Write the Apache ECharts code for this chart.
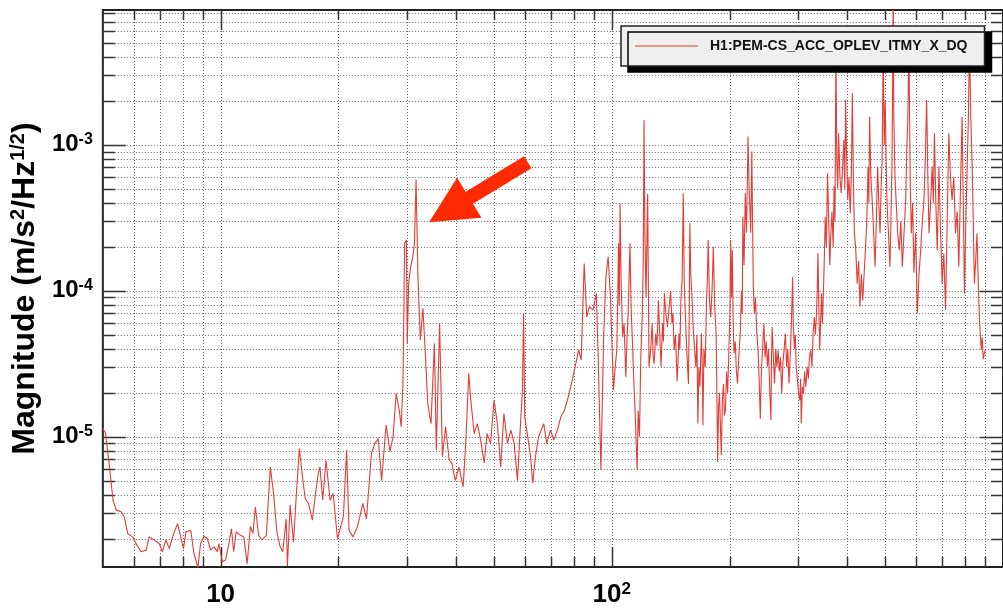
<!DOCTYPE html>
<html><head><meta charset="utf-8">
<script src="https://cdn.jsdelivr.net/npm/echarts@6/dist/echarts.min.js"></script>
<style>html,body{margin:0;padding:0;background:#fff}#c{width:1003px;height:616px}</style>
</head><body><div id="c"></div>
<script>
// ---- data: [frequency Hz, magnitude] ----
const bandLow = [[5.0,1.14e-5],[5.08,1.06e-5],[5.2,6.2e-6],[5.31,3.67e-6],[5.41,3.14e-6],[5.57,3.06e-6],[5.67,2.83e-6],[5.79,2.17e-6],[5.96,2.06e-6],[6.08,1.85e-6],[6.26,1.63e-6],[6.45,1.67e-6],[6.57,2.06e-6],[6.77,1.96e-6],[6.97,1.85e-6],[7.1,1.63e-6],[7.25,1.96e-6],[7.39,1.71e-6],[7.54,2.06e-6],[7.76,2.54e-6],[7.91,2.06e-6],[8.04,1.71e-6],[8.15,2.23e-6],[8.39,2.28e-6],[8.55,1.59e-6],[8.75,1.27e-6],[8.89,1.85e-6],[9.07,2.08e-6],[9.25,2.0e-6],[9.43,1.67e-6],[9.62,1.76e-6],[9.81,1.63e-6],[9.9,1.85e-6],[10.1,1.39e-6],[10.3,1.43e-6],[10.5,1.85e-6],[10.66,2.34e-6],[10.8,1.63e-6],[10.96,2.23e-6],[11.24,2.11e-6],[11.46,2.06e-6],[11.69,1.35e-6],[11.92,2.43e-6],[12.1,2.17e-6],[12.27,3.3e-6],[12.51,2.11e-6],[12.76,1.96e-6],[13.09,2.11e-6],[13.4,6.2e-6],[13.66,4.08e-6],[13.93,2.23e-6],[14.2,1.76e-6],[14.42,1.63e-6],[14.71,2.74e-6],[14.82,1.3e-6],[15.06,3.41e-6],[15.36,1.89e-6],[15.66,4.54e-6],[15.9,8.3e-6],[16.2,5.3e-6],[16.45,3.77e-6],[16.77,3.49e-6],[17.16,2.68e-6],[17.44,3.87e-6],[17.77,5.6e-6],[17.95,6.2e-6],[18.24,3.67e-6],[18.6,6.9e-6],[19.05,3.67e-6],[19.4,4.08e-6],[19.9,2.0e-6]];
const bandMid = [[20.6,2.83e-6],[21.0,8.1e-6],[21.3,2.28e-6],[21.8,2.06e-6],[22.4,2.43e-6],[23.1,3.49e-6],[23.6,2.74e-6],[24.3,7.7e-6],[24.8,9.0e-6],[25.3,9.7e-6],[25.8,5.0e-6],[26.3,9.5e-6],[26.5,1.2e-5],[27.1,7.9e-6],[27.6,1.0e-5],[28.1,1.98e-5],[28.65,1.5e-5],[28.95,1.17e-5],[29.25,2.3e-5],[29.55,2.12e-4],[29.85,2.23e-4],[30.0,4.36e-5],[30.25,1.12e-4],[30.6,1.46e-4],[31.0,1.71e-4],[31.3,2.12e-4],[31.6,5.76e-4],[31.95,1.25e-4],[32.4,4.6e-5],[32.9,7.6e-5],[33.4,3.52e-5],[33.85,1.69e-5],[34.5,1.23e-5],[35.2,4.36e-5],[35.6,8.1e-6],[36.3,5.97e-5],[36.9,7.3e-6],[37.6,1.17e-5],[38.4,6.9e-6],[39.0,6.6e-6],[39.8,5.0e-6],[40.7,6.2e-6],[41.7,4.54e-6],[42.4,1.0e-5],[43.1,2.72e-5],[43.6,1.78e-5],[44.5,1.05e-5],[45.3,1.23e-5],[46.2,9.5e-6],[47.2,6.6e-6],[48.0,1.05e-5],[49.0,9.0e-6],[50,1.78e-5],[51,1.23e-5],[52,6.2e-6],[53,1.44e-5],[54.1,9.0e-6],[55.2,1.11e-5],[56.3,9.0e-6],[57.4,5.0e-6],[58.5,1.3e-5],[59.1,2.09e-5],[59.5,7.0e-5],[59.9,1.37e-5],[60.8,1.05e-5],[62,7.3e-6],[62.8,4.8e-6],[63.8,7.3e-6],[65,1.0e-5],[67,1.23e-5],[68.2,9.0e-6],[69.7,1.11e-5],[71.1,9.5e-6],[72.6,1.11e-5],[74.1,1.37e-5],[75.7,1.52e-5],[77.3,1.85e-5],[78.9,2.32e-5],[80.6,3.02e-5],[82.3,3.93e-5],[83.5,3.36e-5],[85,1.54e-4],[86.3,6.6e-5],[87.6,7.8e-5],[89.5,7.4e-5],[91.3,9.6e-5],[92.3,3.52e-5],[93.8,5.9e-6],[95.3,4.8e-5],[96.6,1.25e-4],[97.9,1.71e-4],[99.2,9.1e-5]];
const bandHigh = [[101,2.09e-5],[102,3.0e-5],[103,3.93e-5],[103.6,9e-5],[104,2.12e-4],[104.5,8e-5],[105,3.96e-4],[105.6,1.2e-4],[106.6,4.8e-5],[107.5,6e-5],[108.6,2.58e-5],[109.3,4.5e-5],[110,6.6e-5],[110.6,1.1e-4],[111.3,2.12e-4],[112,8e-5],[112.8,4.8e-5],[113.8,2.5e-5],[115,1.23e-5],[116.1,5.9e-6],[116.8,1.5e-5],[117.7,1.0e-5],[118.6,3.5e-5],[119.6,6.6e-5],[120.3,1.5e-4],[120.9,1.48e-3],[121.5,2.5e-4],[122.3,9e-5],[123.5,4.6e-4],[124.5,3.0e-5],[125.7,3.93e-5],[126.8,6e-5],[127.6,3.5e-5],[128.3,3.17e-5],[129.5,5.1e-5],[130.5,4.2e-5],[131.6,8.6e-5],[132.6,5e-5],[133.6,3.02e-5],[134.8,6e-5],[135.5,4.5e-5],[136.3,9.6e-5],[137.5,7e-5],[138.8,5.65e-5],[140,7.5e-5],[141.4,1.0e-4],[142.5,6e-5],[143.4,7e-5],[144.3,3.93e-5],[145.5,5e-5],[146.9,2.4e-5],[147.8,3.5e-5],[148.5,5.1e-5],[149.3,4e-5],[150.2,8.6e-5],[151.3,1.2e-4],[152.3,4.66e-4],[153.2,1.1e-4],[154.8,5.1e-5],[155.8,3.5e-5],[157,2.3e-5],[157.7,6e-5],[158.3,2.9e-4],[159.2,1.3e-4],[160.5,8.6e-5],[161.5,5.5e-5],[162.8,3.93e-5],[164,3e-5],[165,5e-5],[166,1.23e-5],[167,3e-5],[168,2.2e-5],[169.5,5.1e-5],[170.3,3e-5],[171,1.2e-5],[172,4e-5],[173.3,3e-5],[174.6,8.6e-5],[175.5,1.2e-4],[176.4,2.23e-4],[177.6,9e-5],[179,6.6e-5],[180.4,1e-4],[181.8,2.0e-4],[183.2,8e-5],[184.8,5.1e-5],[185.6,2e-5],[186.5,6.7e-6],[187.5,1.6e-5],[188.5,2.0e-5],[189.5,1.2e-5],[190.5,7.5e-6],[191.8,1.8e-5],[193,2.3e-5],[194,1.4e-5],[195.2,1.52e-5],[196.5,2.8e-5],[197.8,2e-5],[199.2,3.93e-5],[200.4,7e-5],[201.3,2.23e-4],[202.3,9e-5],[203.3,1.9e-4],[204.3,6e-5],[205.4,3.75e-5],[206.8,4.5e-5],[208.2,2.8e-5],[209.6,2.32e-5],[211.3,3.6e-5],[213,5.1e-5],[214.6,1e-4],[215.5,7e-5],[216.3,3.22e-4],[217.8,1.5e-4],[219.4,4.66e-4],[221,2.5e-4],[223,1.14e-3],[224,6e-4],[225,4.2e-4],[226.5,2.5e-4],[228,9.0e-4],[229,3e-4],[230,1.07e-4],[231.5,7e-5],[233,9e-5],[234.8,5.1e-5],[236.5,4e-5],[238,2.5e-5],[239.7,1.33e-5],[241,2.5e-5],[242,3.36e-5],[243.4,4.5e-5],[244.8,5.96e-5],[246.5,3.5e-5],[248.2,4.5e-5],[249.9,3.02e-5],[251.5,4e-5],[253.5,2e-5],[255.2,1.3e-5],[256,3.5e-5],[257,5.65e-5],[258.8,3.5e-5],[260.6,2.32e-5],[262.5,4e-5],[264.3,3e-5],[266.2,3.93e-5],[268,2.8e-5],[270,3.5e-5],[271.9,1.98e-5],[273.8,3.2e-5],[275.8,4e-5],[277.8,5.1e-5],[279.8,3e-5],[281.8,4e-5],[283.8,2.32e-5],[285.8,3.5e-5],[287.8,6e-5],[289.9,1.25e-4],[291,6e-5],[293,4e-5],[294.5,5e-5],[296.1,3.02e-5],[298,2.5e-5],[300.2,2e-5],[302.5,1.78e-5],[303.8,2.5e-5],[305,1.23e-5],[307,2.2e-5],[309,1.98e-5],[311,2.8e-5],[313.3,2.2e-5],[315.7,3.02e-5],[318,2.5e-5],[320,3.5e-5],[322.5,3.93e-5],[324.8,3e-5],[327,5e-5],[329.4,6.6e-5],[331.5,5e-5],[333.6,7e-5],[335,1e-4],[336.5,1.81e-4],[338.2,8e-5],[340,3.93e-5],[341.8,6e-5],[343.8,9.6e-5],[345.4,6e-5],[347,8.6e-5],[349,1.5e-4],[351.2,3.22e-4],[353.5,2e-4],[356,6.4e-4],[358.5,3e-4],[360.8,1.5e-4],[363,2.48e-4],[365.5,3.5e-4],[368,2e-4],[370,5.2e-4],[372,3e-4],[374,4.5e-3],[376,8e-4],[378,5e-4],[380,1.2e-3],[383,6e-4],[386,4.66e-4],[389,7e-4],[392,1.08e-3],[394,5e-4],[396,2.03e-3],[398.5,8e-4],[401,4.2e-4],[404,6e-4],[407,3.4e-4],[409.5,6e-4],[412,2.26e-3],[414.5,6e-4],[417,2.48e-4],[420,2e-4],[424,1.12e-4],[427.5,1.6e-4],[431,7.8e-5],[434.5,1.3e-4],[438,8.6e-5],[441.5,1.3e-4],[445,1.9e-4],[448.5,3e-4],[452,7.1e-4],[454,4e-4],[456,1.56e-3],[459.5,6e-4],[463,4.2e-4],[467,2.5e-4],[471,1.46e-4],[474.5,3e-4],[478,7.1e-4],[481.5,4e-4],[485,2.48e-4],[488,5e-4],[491,8e-4],[494,4.5e-3],[497,1e-3],[500,2.03e-3],[502.5,8e-4],[505,4.2e-4],[509.5,2.5e-4],[514,1.46e-4],[517,3e-4],[520,7.1e-4],[522,2e-3],[524,1.2e-2],[526,1.5e-3],[529.5,6e-4],[533,4.2e-4],[538,2.5e-4],[543,1.9e-4],[548,3e-4],[553,1.46e-4],[558.5,2.5e-4],[564,4.2e-4],[567.5,9e-4],[571,1.5e-3],[575,4.5e-3],[579,6e-4],[583,2.48e-4],[587.5,4e-4],[592,1.33e-4],[598,2.5e-4],[604,7.0e-5],[610,1.3e-4],[616,1.9e-4],[622,3e-4],[628,4.2e-4],[633,8e-4],[638,2.03e-3],[642.5,6e-4],[647,2.48e-4],[653,4e-4],[659,7.1e-4],[663.5,4e-4],[668,1.2e-3],[673.5,4e-4],[679,1.9e-4],[682.5,3.5e-4],[686,7.1e-4],[692.5,2.5e-4],[699,1.12e-4],[706,1.8e-4],[713,7.4e-5],[720,3e-4],[727,1.2e-3],[734,6e-4],[741,4.2e-4],[748.5,6e-4],[756,2.48e-4],[763.5,3.5e-4],[771,1.46e-4],[778.5,5e-4],[786,1.56e-3],[791.5,4e-4],[797,9.6e-5],[803.5,3e-4],[810,7.1e-4],[815.5,1.5e-3],[821,5.0e-3],[827.5,1.5e-3],[834,7.1e-4],[839.5,3e-4],[845,1.12e-4],[851.5,1.6e-4],[858,2.48e-4],[864,1.2e-4],[870,6.6e-5],[875,5e-5],[880,3.93e-5],[885,4.8e-5],[890,3.4e-5],[897,3.8e-5],[905,4.0e-5]];

const seriesName = 'H1:PEM-CS_ACC_OPLEV_ITMY_X_DQ';
const xRange = [5, 1000];
const yRange = [1.28e-6, 8.4e-3];
const xGridValues = [6,7,8,9,10,20,30,40,50,60,70,80,90,100,200,300,400,500,600,700,800,900];
const xMajorValues = [10, 100];
const yGridValues = [2e-6,3e-6,4e-6,5e-6,6e-6,7e-6,8e-6,9e-6,1e-5,2e-5,3e-5,4e-5,5e-5,6e-5,7e-5,8e-5,9e-5,1e-4,2e-4,3e-4,4e-4,5e-4,6e-4,7e-4,8e-4,9e-4,1e-3,2e-3,3e-3,4e-3,5e-3,6e-3,7e-3,8e-3];
const yMajorValues = [1e-5, 1e-4, 1e-3];
const xLabelValues = [10, 100];
const xLabelExps = ['', '2'];
const yLabelValues = [1e-5, 1e-4, 1e-3];
const yLabelExps = ['-5', '-4', '-3'];
const arrowFrom = [61, 7.6e-4];
const arrowTo = [38.4, 3.58e-4];

const FONT = 'Liberation Sans, Arial, Helvetica, sans-serif';
const spectrum = bandLow.concat(bandMid, bandHigh);

function near(a, b) { return Math.abs(Math.log10(a) - Math.log10(b)) < 1e-6; }
function labelFor(v, vals, exps) {
  for (let i = 0; i < vals.length; i++) {
    if (near(v, vals[i])) return exps[i] ? '{b|10}{s|' + exps[i] + '}' : '{b|10}';
  }
  return '';
}

const chart = echarts.init(document.getElementById('c'), null, {renderer: 'canvas'});

function xGridItem(params, api) {
  const cs = params.coordSys;
  const major = api.value(2) === 1;
  const x = Math.round(api.coord([api.value(0), api.value(1)])[0]) + 0.5;
  const top = cs.y, bot = cs.y + cs.height;
  const tl = major ? 20 : 10;
  return {type: 'group', children: [
    {type: 'line', shape: {x1: x, y1: top, x2: x, y2: bot}, style: {stroke: '#666', lineWidth: 1, lineDash: [1, 2]}},
    {type: 'line', shape: {x1: x, y1: bot, x2: x, y2: bot - tl}, style: {stroke: '#333', lineWidth: 1.5}},
    {type: 'line', shape: {x1: x, y1: top, x2: x, y2: top + tl}, style: {stroke: '#333', lineWidth: 1.5}}
  ]};
}
function yGridItem(params, api) {
  const cs = params.coordSys;
  const major = api.value(2) === 1;
  const y = Math.round(api.coord([api.value(0), api.value(1)])[1]) + 0.5;
  const l = cs.x, r = cs.x + cs.width;
  const tl = major ? 23 : 12;
  return {type: 'group', children: [
    {type: 'line', shape: {x1: l, y1: y, x2: r, y2: y}, style: {stroke: '#666', lineWidth: 1, lineDash: [1, 2]}},
    {type: 'line', shape: {x1: l, y1: y, x2: l + tl, y2: y}, style: {stroke: '#333', lineWidth: 1.5}},
    {type: 'line', shape: {x1: r, y1: y, x2: r - tl, y2: y}, style: {stroke: '#333', lineWidth: 1.5}}
  ]};
}

const option = {
  animation: false,
  backgroundColor: '#fff',
  grid: {left: 102, top: 10, width: 905, height: 557, show: true, borderColor: '#222', borderWidth: 2, backgroundColor: 'transparent'},
  legend: {
    data: [{name: seriesName, icon: 'path://M0,0L100,0L100,2L0,2Z'}], left: 621, top: 26, orient: 'horizontal',
    padding: [12, 17, 12, 14], itemWidth: 63, itemHeight: 1.6, selectedMode: false, symbolKeepAspect: false,
    backgroundColor: '#efefef', borderColor: '#222', borderWidth: 1.5, borderRadius: 0,
    shadowColor: '#000', shadowBlur: 0, shadowOffsetX: 7, shadowOffsetY: 6,
    itemStyle: {color: '#e8716c'},
    textStyle: {fontFamily: FONT, fontWeight: 'bold', fontSize: 14, color: '#111', padding: [0, 0, 0, 7], lineHeight: 16}
  },
  xAxis: {
    type: 'log', min: xRange[0], max: xRange[1], logBase: 10,
    axisLine: {show: false}, axisTick: {show: false}, splitLine: {show: false},
    axisLabel: {
      margin: 14, showMinLabel: false, showMaxLabel: false,
      formatter: v => labelFor(v, xLabelValues, xLabelExps),
      rich: {
        b: {fontFamily: FONT, fontWeight: 'bold', fontSize: 26, color: '#000', lineHeight: 28},
        s: {fontFamily: FONT, fontWeight: 'bold', fontSize: 17, color: '#000', verticalAlign: 'top', lineHeight: 16}
      }
    }
  },
  yAxis: {
    type: 'log', min: yRange[0], max: yRange[1], logBase: 10,
    axisLine: {show: false}, axisTick: {show: false}, splitLine: {show: false},
    axisLabel: {
      margin: 10, showMinLabel: false, showMaxLabel: false,
      formatter: v => labelFor(v, yLabelValues, yLabelExps),
      rich: {
        b: {fontFamily: FONT, fontWeight: 'bold', fontSize: 24, color: '#000', lineHeight: 26},
        s: {fontFamily: FONT, fontWeight: 'bold', fontSize: 16, color: '#000', verticalAlign: 'top', lineHeight: 12}
      }
    },
    name: '{t|Magnitude (m/s}{s|2}{t|/Hz}{s|1/2}{t|)}',
    nameLocation: 'middle', nameRotate: 90, nameGap: 58,
    nameTextStyle: {
      rich: {
        t: {fontFamily: FONT, fontWeight: 'bold', fontSize: 32, color: '#000', lineHeight: 34},
        s: {fontFamily: FONT, fontWeight: 'bold', fontSize: 20, color: '#000', verticalAlign: 'top', lineHeight: 18}
      }
    }
  },
  series: [
    {
      type: 'custom', name: 'xgrid', silent: true, z: 1,
      renderItem: xGridItem,
      data: xGridValues.map(v => [v, 1e-4, xMajorValues.some(m => near(m, v)) ? 1 : 0])
    },
    {
      type: 'custom', name: 'ygrid', silent: true, z: 1,
      renderItem: yGridItem,
      data: yGridValues.map(v => [6, v, yMajorValues.some(m => near(m, v)) ? 1 : 0])
    },
    {
      type: 'line', name: seriesName, data: spectrum,
      symbol: 'none', showSymbol: false, clip: true, z: 3,
      lineStyle: {color: '#e23d37', width: 1.1},
      itemStyle: {color: '#e23d37'},
      markLine: {
        silent: true, animation: false,
        symbol: ['none', 'path://M5,0L10,10L0,10Z'], symbolSize: [47, 47],
        label: {show: false},
        lineStyle: {color: '#ff2a00', width: 14, type: 'solid', opacity: 1},
        emphasis: {disabled: true},
        data: [[{coord: arrowFrom}, {coord: arrowTo}]]
      }
    }
  ]
};
chart.setOption(option);
</script>
</body></html>
